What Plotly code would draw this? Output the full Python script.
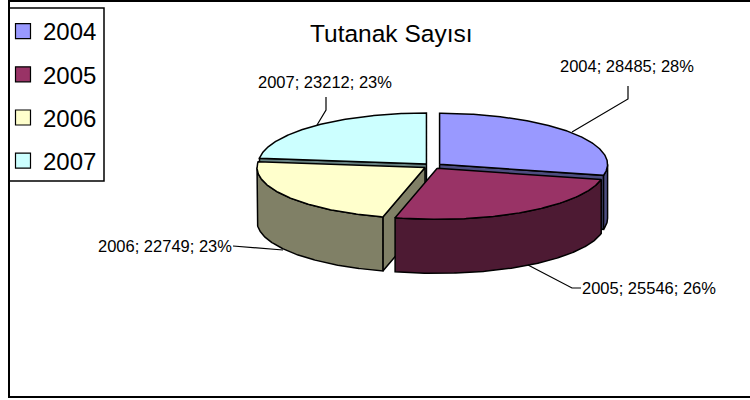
import math
import numpy as np
import plotly.graph_objects as go

years = ["2004", "2005", "2006", "2007"]
values = [28485, 25546, 22749, 23212]
top_colors = ["#9999ff", "#993366", "#ffffcc", "#ccffff"]
side_colors = ["#4d4d80", "#4d1a33", "#808066", "#668080"]
draw_order = [3, 0, 2, 1]
title_text = "Tutanak Sayısı"

# Pixel-like plotting frame and pie geometry
CX, CY, RX, RY, DEPTH, EXPLODE = 432.5, 166.0, 168.0, 51.0, 54.0, 0.054
LINE = dict(color="black", width=1.5)

total = sum(values)
fractions = [v / total for v in values]
edges = np.cumsum([0.0] + fractions) * 360.0


def arc(a1, a2, cx, cy):
    t = np.radians(np.linspace(a1, a2, max(int(abs(a2 - a1)) * 2, 2)))
    return cx + RX * np.sin(t), cy - RY * np.cos(t)


def poly(fig, xs, ys, color):
    fig.add_trace(go.Scatter(x=list(xs), y=list(ys), mode="lines", fill="toself",
                             fillcolor=color, line=LINE, showlegend=False, hoverinfo="skip"))


fig = go.Figure()
for i in draw_order:
    a1, a2 = edges[i], edges[i + 1]
    mid = math.radians((a1 + a2) / 2)
    ax = CX + EXPLODE * RX * math.sin(mid)
    ay = CY - EXPLODE * RY * math.cos(mid)
    # visible cut faces
    for ang, normal in ((a1, a1 - 90), (a2, a2 + 90)):
        if -math.cos(math.radians(normal)) > 1e-6:
            px = ax + RX * math.sin(math.radians(ang))
            py = ay - RY * math.cos(math.radians(ang))
            poly(fig, [ax, px, px, ax, ax], [ay, py, py + DEPTH, ay + DEPTH, ay], side_colors[i])
    # outer wall (front half only)
    w1, w2 = max(a1, 90.0), min(a2, 270.0)
    if w2 > w1:
        x, y = arc(w1, w2, ax, ay)
        poly(fig, np.r_[x, x[::-1], x[0]], np.r_[y, (y + DEPTH)[::-1], y[0]], side_colors[i])
    # top face
    x, y = arc(a1, a2, ax, ay)
    poly(fig, np.r_[ax, x, ax], np.r_[ay, y, ay], top_colors[i])

# Legend entries
for yr, c in zip(years, top_colors):
    fig.add_trace(go.Scatter(x=[None], y=[None], mode="markers", name=yr, legendgroup=yr,
                             marker=dict(symbol="square", size=15, color=c,
                                         line=dict(color="black", width=1.2))))

# Data labels with leader lines
label_pos = [(626.5, 66, "center"), (580, 288, "left"), (234, 246, "right"), (325, 82, "center")]
leaders = [
    ([572, 628, 628], [132, 99, 86]),
    ([528, 572, 581], [265, 288, 288]),
    ([233, 283], [246, 250]),
    ([317, 326, 326], [125, 110, 97]),
]
annotations = []
for yr, v, f, (lx, ly, anchor) in zip(years, values, fractions, label_pos):
    annotations.append(dict(x=lx, y=ly, xref="x", yref="y", showarrow=False, xanchor=anchor,
                            yanchor="middle", text=f"{yr}; {v}; {round(f * 100)}%",
                            font=dict(family="Liberation Sans", size=16.5, color="black")))
annotations.append(dict(x=391, y=33, xref="x", yref="y", showarrow=False, text=title_text,
                        font=dict(family="Liberation Sans", size=24.5, color="black")))

shapes = [dict(type="path", path="M 750 1 L 9 1 L 9 397 L 750 397", xref="x", yref="y",
               line=dict(color="black", width=2)),
          dict(type="rect", x0=9, x1=104, y0=8, y1=181, xref="x", yref="y",
               line=dict(color="black", width=1.5))]
for lx, ly in leaders:
    path = "M " + " L ".join(f"{a} {b}" for a, b in zip(lx, ly))
    shapes.append(dict(type="path", path=path, xref="x", yref="y", line=dict(color="black", width=1.2)))

fig.update_layout(
    width=750, height=400, autosize=False,
    margin=dict(l=0, r=0, t=0, b=0),
    paper_bgcolor="white", plot_bgcolor="white",
    xaxis=dict(range=[0, 750], visible=False, fixedrange=True),
    yaxis=dict(range=[400, 0], visible=False, fixedrange=True),
    shapes=shapes, annotations=annotations,
    showlegend=True,
    legend=dict(x=3 / 750, y=1 - 9 / 400, xanchor="left", yanchor="top",
                bgcolor="rgba(0,0,0,0)", borderwidth=0, tracegroupgap=9,
                font=dict(family="Liberation Sans", size=24, color="black")),
)
fig.write_html("out.html", config={"displayModeBar": False},
               post_script="document.body.style.margin='0';document.documentElement.style.overflow='hidden';")
